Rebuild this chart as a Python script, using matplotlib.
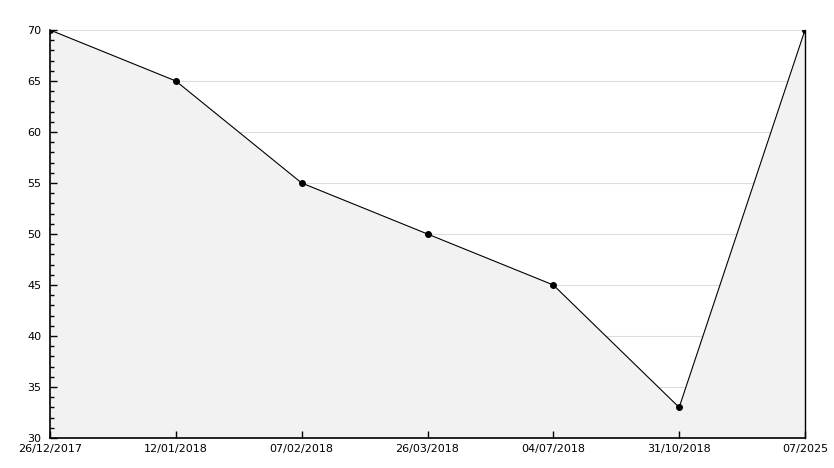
import matplotlib
matplotlib.use("Agg")
import matplotlib.pyplot as plt
from matplotlib.ticker import MultipleLocator

categories = ["26/12/2017", "12/01/2018", "07/02/2018", "26/03/2018", "04/07/2018", "31/10/2018", "07/2025"]
values = [70, 65, 55, 50, 45, 33, 70]
grid_levels = [35, 40, 45, 50, 55, 60, 65, 70]

fig = plt.figure(figsize=(8.34, 4.68), dpi=100)
ax = fig.add_axes([50/834, 1-438/468, 755/834, 408/468])

x = list(range(len(categories)))
for g in grid_levels:
    ax.axhline(g, color="#dddddd", linewidth=0.8, zorder=1)
ax.fill_between(x, values, 30, color="#f2f2f2", zorder=2, linewidth=0)
ax.plot(x, values, color="black", linewidth=0.8, zorder=3,
        marker="o", markersize=4, markerfacecolor="black", markeredgecolor="black")

ax.set_xlim(0, len(categories)-1)
ax.set_ylim(30, 70)
ax.yaxis.set_major_locator(MultipleLocator(5))
ax.yaxis.set_minor_locator(MultipleLocator(1))
ax.set_xticks(x)
ax.set_xticklabels(categories)
ax.set_axisbelow(False)

ax.spines["top"].set_visible(False)
ax.spines["right"].set_linewidth(1.0)
ax.spines["left"].set_linewidth(1.2)
ax.spines["bottom"].set_linewidth(1.2)
for sp in ax.spines.values():
    sp.set_zorder(4)

ax.tick_params(axis="y", which="major", direction="in", length=5, width=1, labelsize=8, pad=6)
ax.tick_params(axis="y", which="minor", direction="in", length=3, width=1)
ax.tick_params(axis="x", which="major", direction="in", length=5, width=1, labelsize=8, pad=4)

fig.savefig("out.png", dpi=100)
